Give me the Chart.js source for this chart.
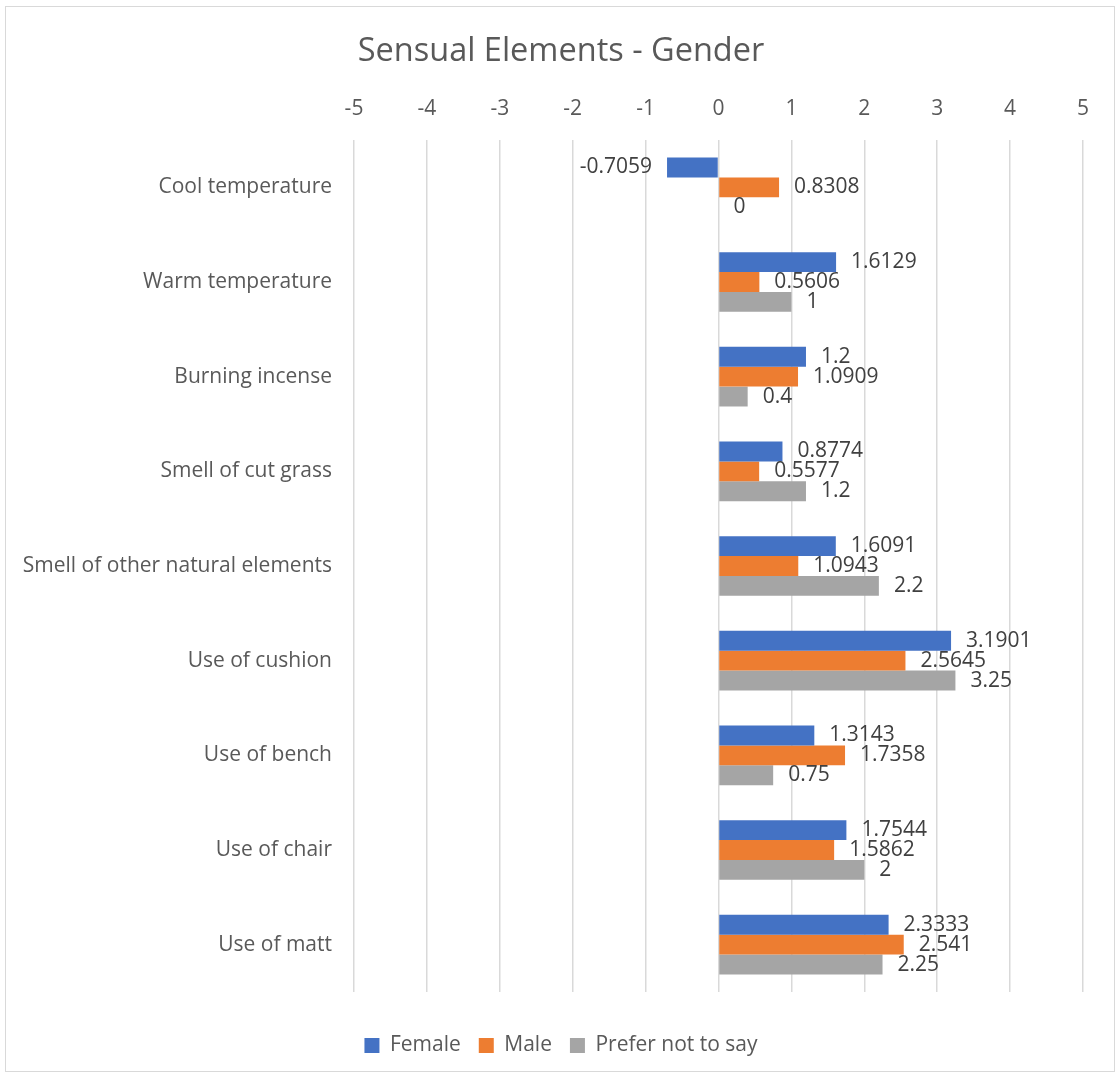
<!DOCTYPE html>
<html>
<head>
<meta charset="utf-8">
<script src="https://cdn.jsdelivr.net/npm/chart.js@4.4.1/dist/chart.umd.min.js"></script>
<style>
  html, body { margin: 0; padding: 0; background: #fff; }
  #wrap { position: relative; width: 1117px; height: 1077px; }
  #frame { position: absolute; left: 5px; top: 6px; width: 1110px; height: 1066px; border: 1px solid #d9d9d9; box-sizing: border-box; pointer-events: none; }
</style>
</head>
<body>
<div id="wrap">
  <canvas id="chart" width="1117" height="1077"></canvas>
  <div id="frame"></div>
</div>
<script>
const categories = [
  'Cool temperature',
  'Warm temperature',
  'Burning incense',
  'Smell of cut grass',
  'Smell of other natural elements',
  'Use of cushion',
  'Use of bench',
  'Use of chair',
  'Use of matt'
];
const female = [-0.7059, 1.6129, 1.2, 0.8774, 1.6091, 3.1901, 1.3143, 1.7544, 2.3333];
const male = [0.8308, 0.5606, 1.0909, 0.5577, 1.0943, 2.5645, 1.7358, 1.5862, 2.541];
const preferNot = [0, 1, 0.4, 1.2, 2.2, 3.25, 0.75, 2, 2.25];
const xTicks = [-5, -4, -3, -2, -1, 0, 1, 2, 3, 4, 5];

const FONT = "'Open Sans', 'Liberation Sans', sans-serif";
const textGrey = '#595959';

// draw value labels just outside the end of each bar
const barLabels = {
  id: 'barLabels',
  afterDatasetsDraw(chart) {
    const ctx = chart.ctx;
    ctx.save();
    ctx.font = '21px ' + FONT;
    ctx.fillStyle = '#404040';
    ctx.textBaseline = 'middle';
    chart.data.datasets.forEach((ds, i) => {
      const meta = chart.getDatasetMeta(i);
      meta.data.forEach((bar, j) => {
        const v = ds.data[j];
        if (v < 0) {
          ctx.textAlign = 'right';
          ctx.fillText(String(v), bar.x - 15, bar.y);
        } else {
          ctx.textAlign = 'left';
          ctx.fillText(String(v), bar.x + 15, bar.y);
        }
      });
    });
    ctx.restore();
  }
};

// empty axes used only as spacers
const spacer = size => ({
  type: 'linear',
  display: true,
  afterFit: s => { if (s.isHorizontal()) s.height = size; else s.width = size; },
  grid: { display: false },
  border: { display: false },
  ticks: { display: false }
});

new Chart(document.getElementById('chart'), {
  type: 'bar',
  data: {
    labels: categories,
    datasets: [
      { label: 'Female', data: female, backgroundColor: '#4472C4', xAxisID: 'x', yAxisID: 'y' },
      { label: 'Male', data: male, backgroundColor: '#ED7D31', xAxisID: 'x', yAxisID: 'y' },
      { label: 'Prefer not to say', data: preferNot, backgroundColor: '#A5A5A5', xAxisID: 'x', yAxisID: 'y' }
    ]
  },
  options: {
    indexAxis: 'y',
    responsive: false,
    animation: false,
    categoryPercentage: 0.63,
    barPercentage: 1,
    layout: { padding: { top: 20, left: 5, right: 0, bottom: 11 } },
    plugins: {
      title: {
        display: true,
        text: 'Sensual Elements - Gender',
        color: textGrey,
        font: { family: FONT, size: 32.5, weight: 'normal' },
        padding: { top: 12.5, bottom: 12 }
      },
      legend: {
        position: 'bottom',
        labels: {
          color: textGrey,
          font: { family: FONT, size: 21 },
          boxWidth: 15,
          boxHeight: 15,
          padding: 18
        }
      },
      tooltip: { enabled: false }
    },
    scales: {
      x: {
        position: 'top',
        min: -5,
        max: 5,
        afterBuildTicks: s => { s.ticks = xTicks.map(v => ({ value: v })); },
        afterFit: s => { s.height = 56.5; },
        grid: { color: '#d9d9d9', lineWidth: 1.5, drawTicks: false },
        border: { display: false },
        ticks: {
          color: textGrey,
          font: { family: FONT, size: 21 },
          padding: 18
        }
      },
      y: {
        afterFit: s => { s.width = 349; },
        grid: { display: false, drawTicks: false },
        border: { display: false },
        ticks: {
          color: textGrey,
          font: { family: FONT, size: 21 },
          padding: 22
        }
      },
      gapBottom: Object.assign(spacer(25), { position: 'bottom', axis: 'x' }),
      gapRight: Object.assign(spacer(34), { position: 'right', axis: 'y' })
    }
  },
  plugins: [barLabels]
});
</script>
</body>
</html>
